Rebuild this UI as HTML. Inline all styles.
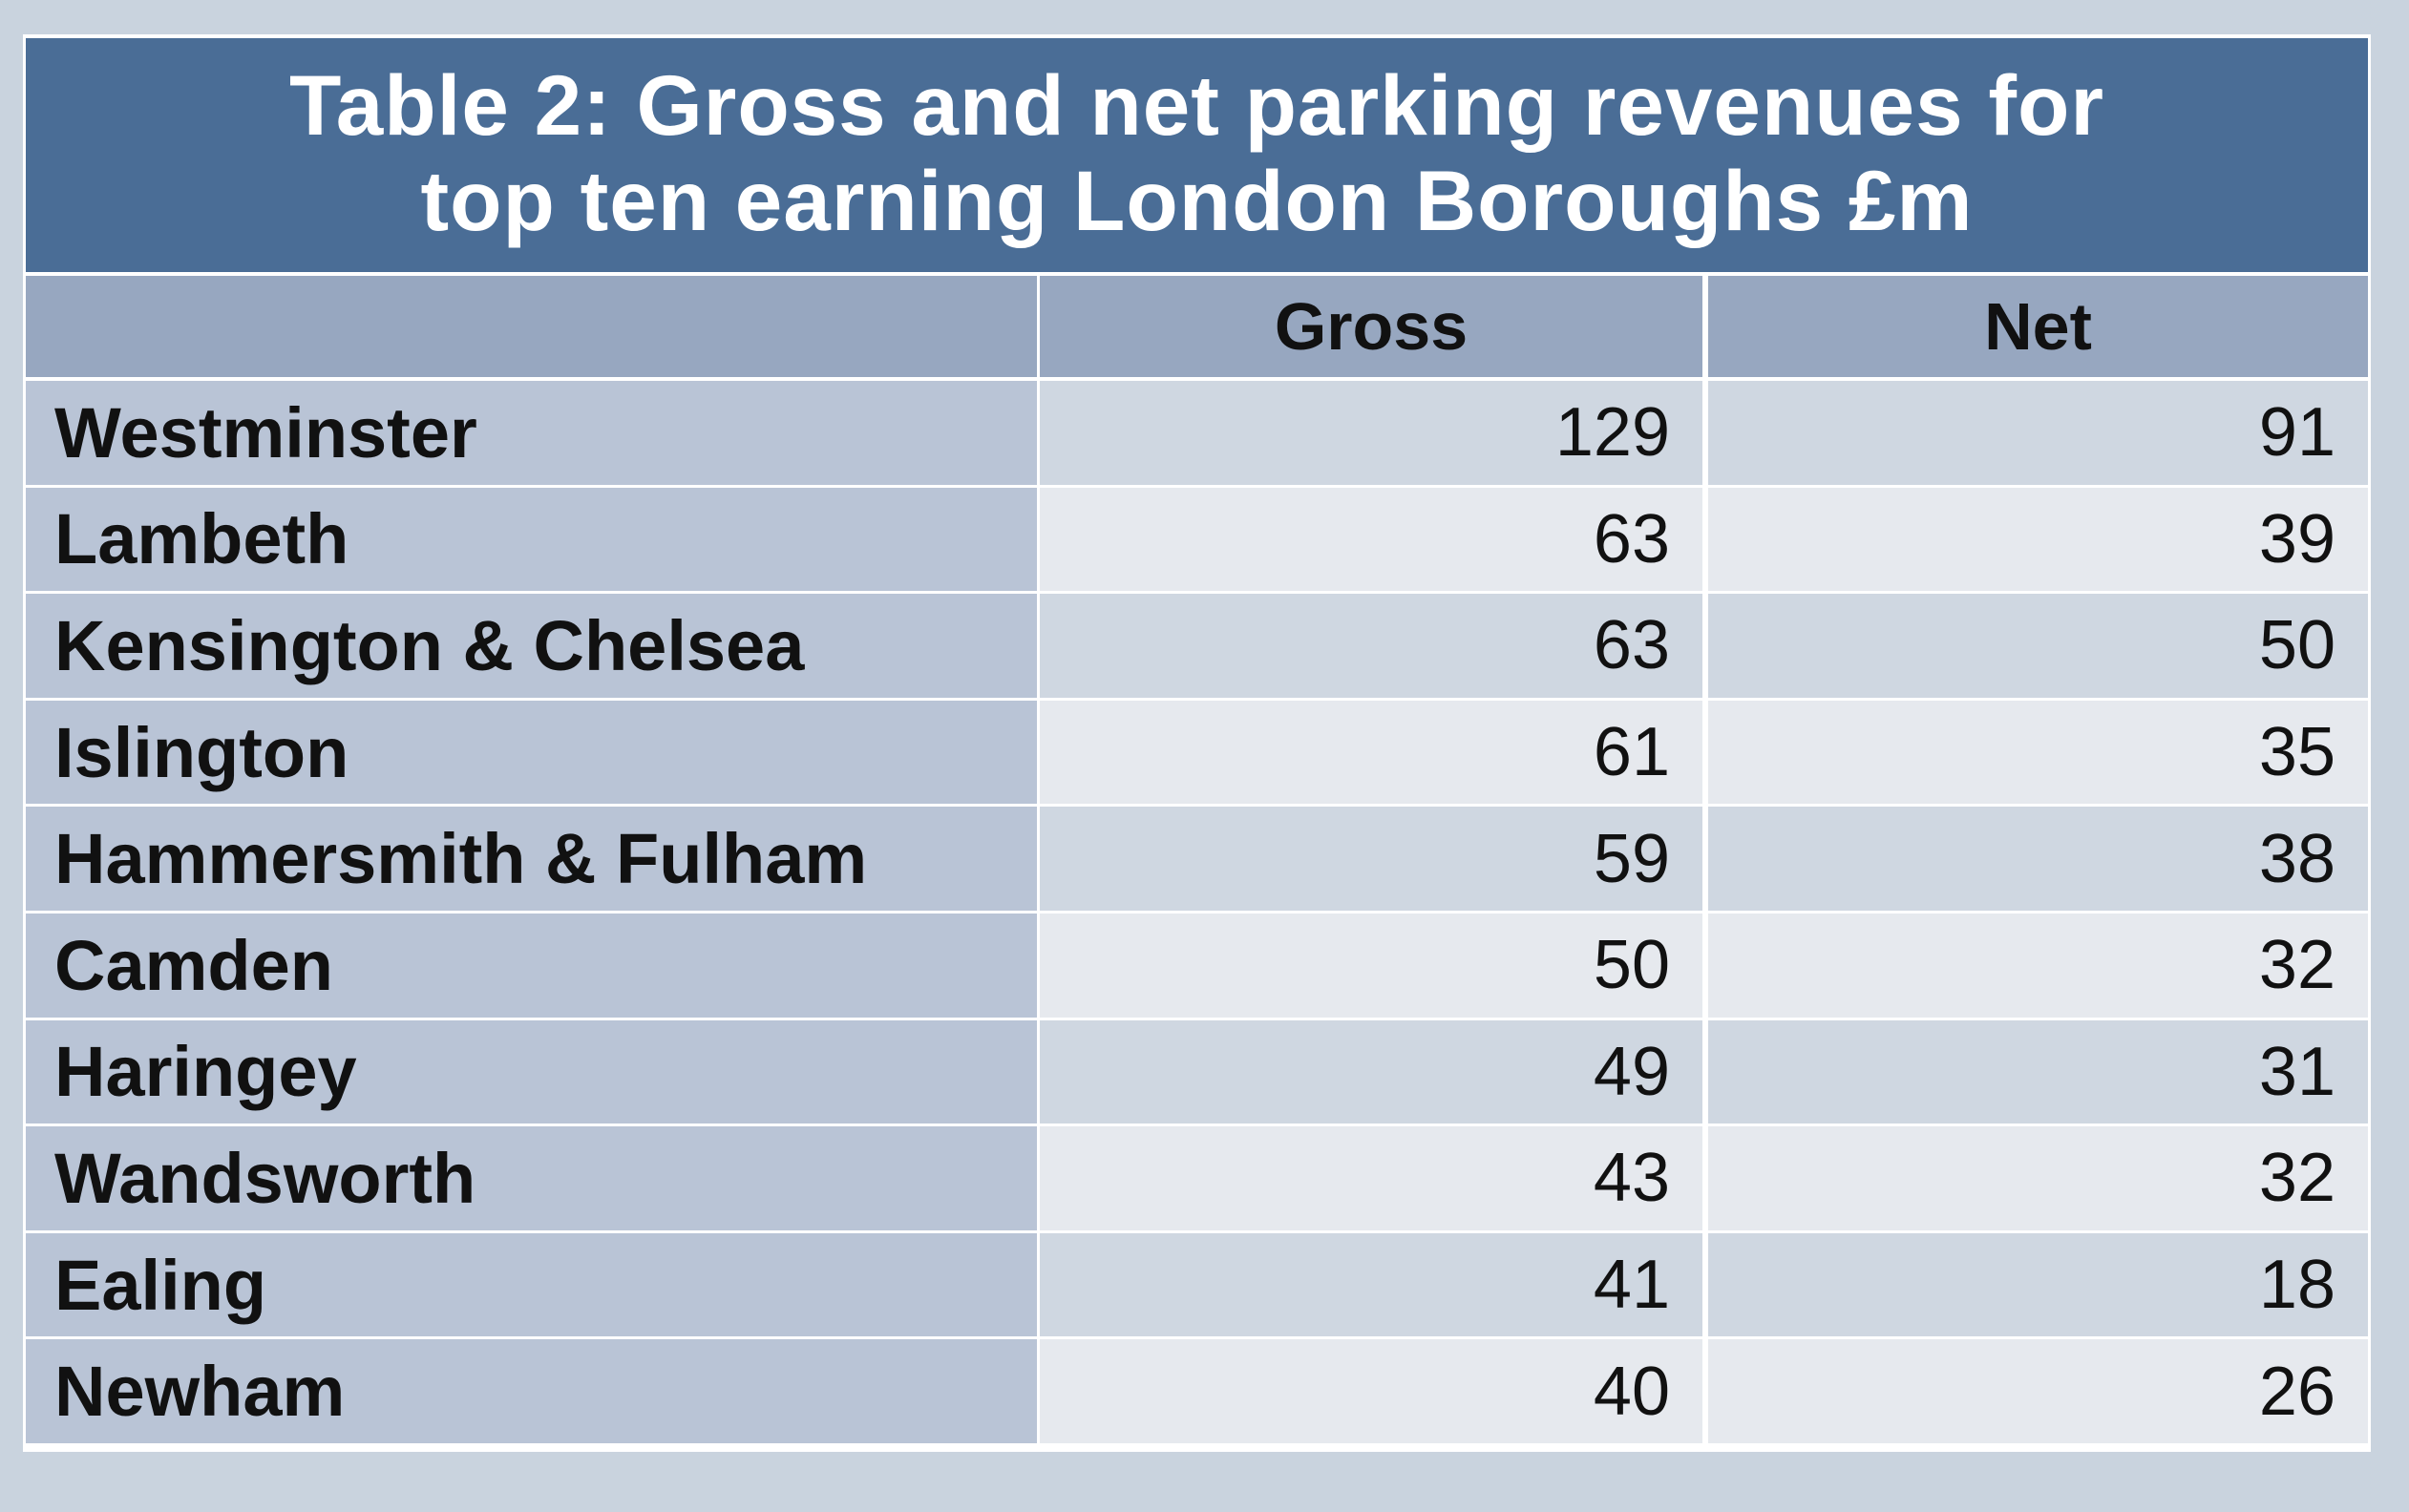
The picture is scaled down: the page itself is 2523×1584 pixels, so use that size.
<!DOCTYPE html>
<html><head><meta charset="utf-8"><style>
*{margin:0;padding:0;box-sizing:border-box}
body{width:2523px;height:1584px;background:#c9d3de;font-family:"Liberation Sans",sans-serif;position:relative;overflow:hidden}
#t{position:absolute;left:24px;top:36px;width:2459px;height:1485px;background:#fff}
.c{position:absolute;display:flex;align-items:center;color:#111}
.title{position:absolute;left:27px;top:40px;width:2453px;height:245px;background:#4a6d96;color:#fff;font-weight:bold;font-size:89px;line-height:100px;text-align:center;padding-top:20px;letter-spacing:1px}
.n{font-weight:bold;font-size:74px;padding-left:30px}
.v{justify-content:flex-end;font-size:72px;padding-right:34px}
.h{justify-content:center;font-weight:bold;font-size:70px}
</style></head><body>
<div id="t"></div>
<div class="title">Table 2: Gross and net parking revenues for<br>top ten earning London Boroughs £m</div>
<div class="c" style="left:27px;top:289px;width:1059px;height:106px;background:#97a7c0"></div>
<div class="c h" style="left:1089px;top:289px;width:694px;height:106px;background:#97a7c0">Gross</div>
<div class="c h" style="left:1789px;top:289px;width:691px;height:106px;background:#97a7c0">Net</div>
<div id="rows"></div>
<script>
var d=[["Westminster",129,91],["Lambeth",63,39],["Kensington &amp; Chelsea",63,50],["Islington",61,35],["Hammersmith &amp; Fulham",59,38],["Camden",50,32],["Haringey",49,31],["Wandsworth",43,32],["Ealing",41,18],["Newham",40,26]];
var h="";
for(var i=0;i<10;i++){var y=399+i*111.6,hh=108.5,bg=i%2==0?"#cfd7e1":"#e6e9ee";
h+='<div class="c n" style="left:27px;top:'+y+'px;width:1059px;height:'+hh+'px;background:#b9c4d6">'+d[i][0]+'</div>';
h+='<div class="c v" style="left:1089px;top:'+y+'px;width:694px;height:'+hh+'px;background:'+bg+'">'+d[i][1]+'</div>';
h+='<div class="c v" style="left:1789px;top:'+y+'px;width:691px;height:'+hh+'px;background:'+bg+'">'+d[i][2]+'</div>';}
document.getElementById("rows").innerHTML=h;
</script>
</body></html>
